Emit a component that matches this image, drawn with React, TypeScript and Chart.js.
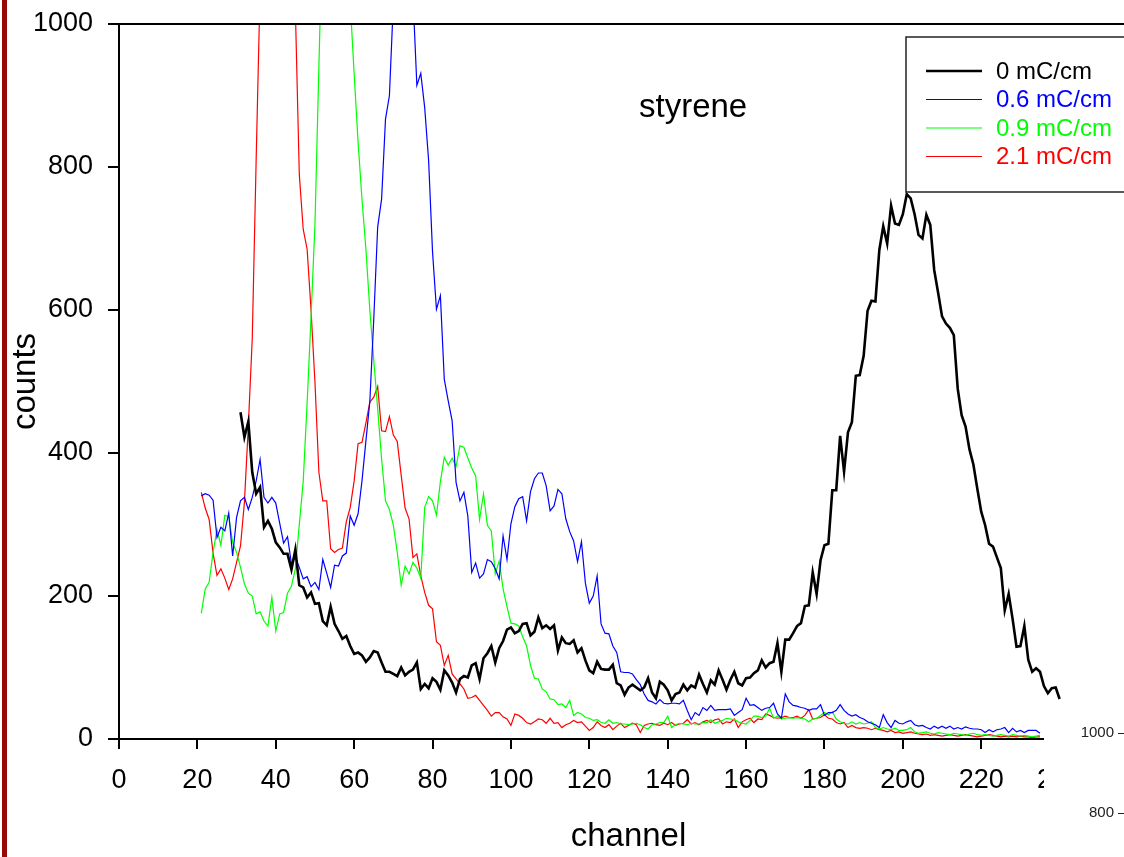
import React, { useEffect, useRef } from "react";
import { Chart, registerables } from "chart.js";

Chart.register(...registerables);

// ---------- data (channel -> counts) ----------
const seriesLabels = ["0 mC/cm", "0.6 mC/cm", "0.9 mC/cm", "2.1 mC/cm"];
const seriesColors = ["#000000", "#0000ff", "#00ff00", "#ff0000"];

const blackStart = 31;
const blackCounts = [
  457, 422, 444, 373, 343, 352, 296, 305, 294, 275,
  268, 259, 259, 237, 265, 215, 212, 198, 205, 189,
  190, 165, 159, 185, 161, 151, 140, 144, 130, 119,
  121, 117, 108, 114, 123, 121, 107, 94, 94, 91,
  88, 100, 89, 94, 97, 107, 70, 77, 71, 85,
  80, 69, 96, 89, 79, 65, 84, 88, 86, 103,
  106, 84, 113, 120, 130, 107, 127, 137, 153, 156,
  148, 151, 161, 162, 145, 150, 170, 155, 159, 154,
  159, 124, 142, 134, 133, 138, 121, 127, 110, 96,
  92, 108, 98, 97, 97, 104, 78, 75, 62, 72,
  76, 72, 68, 72, 85, 65, 57, 80, 76, 68,
  54, 63, 65, 76, 68, 75, 72, 90, 77, 65,
  82, 76, 96, 83, 69, 83, 94, 78, 75, 85,
  86, 92, 96, 110, 100, 106, 108, 134, 94, 139,
  139, 148, 158, 162, 186, 187, 233, 203, 250, 271,
  273, 348, 348, 424, 374, 429, 443, 508, 509, 536,
  599, 613, 612, 684, 717, 693, 746, 721, 719, 734,
  762, 756, 734, 705, 700, 733, 719, 656, 624, 591,
  581, 575, 565, 490, 453, 437, 405, 384, 350, 318,
  299, 273, 269, 254, 239, 180, 203, 168, 129, 130,
  158, 111, 94, 99, 94, 74, 64, 71, 72, 56,
];

const blueStart = 21;
const blueCounts = [
  340, 343, 341, 334, 282, 296, 291, 316, 256, 310,
  333, 338, 321, 338, 361, 391, 338, 330, 338, 330,
  302, 274, 283, 245, 254, 240, 224, 227, 213, 219,
  209, 251, 232, 212, 243, 242, 256, 260, 312, 299,
  315, 361, 417, 472, 587, 716, 755, 867, 900, 1030,
  1110, 1150, 1140, 1090, 1040, 914, 931, 883, 809, 681,
  601, 620, 503, 473, 445, 359, 333, 345, 312, 233,
  246, 225, 231, 251, 248, 238, 224, 284, 251, 301,
  325, 336, 339, 305, 346, 364, 372, 372, 354, 319,
  326, 349, 343, 308, 290, 277, 248, 276, 218, 190,
  200, 228, 161, 148, 147, 130, 121, 94, 93, 93,
  91, 83, 76, 63, 54, 52, 49, 55, 50, 49,
  50, 50, 49, 54, 40, 27, 37, 33, 44, 40,
  47, 40, 41, 41, 41, 42, 33, 37, 41, 57,
  47, 48, 44, 40, 43, 44, 50, 35, 29, 63,
  52, 47, 46, 44, 43, 40, 42, 42, 48, 33,
  37, 37, 40, 48, 40, 35, 32, 34, 30, 28,
  24, 22, 20, 16, 34, 23, 16, 26, 22, 21,
  24, 26, 20, 18, 19, 16, 14, 18, 15, 18,
  15, 18, 14, 16, 14, 17, 15, 14, 14, 13,
  9, 13, 10, 13, 14, 16, 9, 15, 10, 12,
  9, 12, 12, 12, 8,
];

const greenStart = 21;
const greenCounts = [
  176, 210, 219, 261, 293, 271, 313, 311, 275, 261,
  240, 217, 204, 200, 175, 178, 165, 158, 198, 151,
  175, 177, 204, 214, 238, 300, 360, 470, 590, 720,
  940, 1150, 1300, 1400, 1420, 1350, 1250, 1120, 1030, 930,
  835, 755, 685, 600, 530, 462, 392, 333, 321, 299,
  261, 215, 242, 231, 247, 239, 225, 324, 339, 333,
  313, 360, 394, 383, 393, 381, 410, 408, 393, 379,
  368, 307, 343, 299, 291, 231, 249, 210, 185, 162,
  161, 158, 143, 130, 103, 85, 84, 70, 66, 56,
  55, 48, 49, 44, 54, 33, 37, 35, 30, 29,
  26, 27, 23, 22, 27, 22, 23, 21, 21, 20,
  21, 22, 20, 16, 14, 20, 21, 23, 23, 32,
  16, 20, 22, 21, 20, 22, 21, 21, 23, 23,
  27, 22, 24, 26, 29, 28, 27, 24, 22, 21,
  26, 32, 32, 30, 32, 43, 29, 32, 28, 29,
  30, 29, 30, 29, 28, 24, 28, 29, 33, 37,
  34, 38, 28, 24, 22, 21, 24, 21, 23, 21,
  22, 24, 16, 14, 16, 14, 13, 15, 12, 12,
  13, 16, 10, 8, 9, 10, 8, 7, 9, 8,
  7, 6, 8, 7, 6, 5, 7, 8, 6, 5,
  6, 5, 4, 5, 6, 5, 4, 6, 5, 4,
  5, 4, 3, 4, 5,
];

const redStart = 21;
const redCounts = [
  345, 323, 307, 260, 229, 238, 225, 209, 224, 247,
  270, 331, 438, 560, 811, 1050, 1200, 1350, 1450, 1500,
  1480, 1400, 1300, 1150, 1020, 790, 713, 685, 600, 499,
  373, 333, 333, 266, 261, 265, 267, 304, 324, 361,
  413, 415, 442, 471, 478, 493, 431, 430, 451, 425,
  416, 369, 323, 308, 254, 259, 228, 205, 187, 182,
  136, 131, 103, 117, 91, 84, 77, 70, 57, 58,
  61, 54, 47, 40, 32, 37, 37, 31, 28, 19,
  35, 33, 29, 23, 21, 24, 28, 27, 22, 29,
  22, 23, 16, 20, 22, 26, 23, 24, 18, 12,
  16, 24, 19, 16, 20, 13, 18, 22, 16, 19,
  22, 20, 9, 19, 21, 22, 20, 19, 22, 20,
  23, 19, 21, 22, 27, 21, 23, 20, 24, 26,
  23, 27, 28, 21, 24, 23, 28, 16, 24, 27,
  29, 23, 28, 27, 35, 33, 30, 29, 30, 32,
  30, 30, 32, 29, 33, 41, 28, 29, 30, 34,
  29, 28, 23, 21, 23, 16, 19, 16, 15, 16,
  15, 13, 15, 13, 12, 10, 12, 9, 10, 8,
  9, 10, 8, 7, 6, 7, 5, 6, 5, 4,
  5, 6, 5, 4, 5, 6, 5, 4, 3, 4,
  5, 6, 5, 4, 3, 4, 3, 4, 3, 4,
  3, 3, 2, 3, 3,
];

const xMin = 0;
const xMax = 260;
const xStep = 20;
const yMin = 0;
const yMax = 1000;
const yStep = 200;
const xTitle = "channel";
const yTitle = "counts";
const annotationText = "styrene";
const cornerLabels = ["1000", "800"];

const FONT = "'Liberation Sans', Arial, Helvetica, sans-serif";
const W = 1180;
const H = 857;

function toPoints(start: number, values: number[]) {
  return values.map((v, i) => ({ x: start + i, y: v }));
}

const decorPlugin = {
  id: "decor",
  afterDraw(chart: any) {
    const ctx: CanvasRenderingContext2D = chart.ctx;
    const area = chart.chartArea;
    ctx.save();

    // top frame line
    ctx.strokeStyle = "#000";
    ctx.lineWidth = 2;
    ctx.beginPath();
    ctx.moveTo(area.left, area.top);
    ctx.lineTo(W, area.top);
    ctx.stroke();

    // pasted-over corner (neighbouring figure)
    ctx.fillStyle = "#ffffff";
    ctx.fillRect(1044, 704, W - 1044, H - 704);
    ctx.fillStyle = "#222";
    ctx.font = `15px ${FONT}`;
    ctx.textAlign = "right";
    ctx.textBaseline = "middle";
    ctx.fillText(cornerLabels[0], 1114, 733);
    ctx.fillText(cornerLabels[1], 1114, 813);
    ctx.strokeStyle = "#222";
    ctx.lineWidth = 1;
    ctx.beginPath();
    ctx.moveTo(1118, 733.5);
    ctx.lineTo(1124, 733.5);
    ctx.moveTo(1118, 813.5);
    ctx.lineTo(1124, 813.5);
    ctx.stroke();

    // annotation
    ctx.fillStyle = "#000";
    ctx.font = `33px ${FONT}`;
    ctx.textAlign = "left";
    ctx.textBaseline = "alphabetic";
    ctx.fillText(annotationText, 639, 117);

    // legend
    ctx.strokeStyle = "#222";
    ctx.lineWidth = 1.5;
    ctx.strokeRect(906, 37, W, 155);
    const rows = [71, 99.5, 128, 156.5];
    chart.data.datasets.forEach((ds: any, i: number) => {
      ctx.strokeStyle = ds.borderColor;
      ctx.lineWidth = i === 0 ? 2.5 : 1.2;
      ctx.beginPath();
      ctx.moveTo(926, rows[i]);
      ctx.lineTo(982, rows[i]);
      ctx.stroke();
      ctx.fillStyle = ds.borderColor;
      ctx.font = `24px ${FONT}`;
      ctx.textAlign = "left";
      ctx.textBaseline = "middle";
      ctx.fillText(ds.label, 996, rows[i] + 1);
    });

    // left edge bar
    ctx.fillStyle = "#990808";
    ctx.fillRect(2, 0, 5, H);
    ctx.restore();
  },
};

export default function App() {
  const ref = useRef<HTMLCanvasElement>(null);

  useEffect(() => {
    document.body.style.margin = "0";
    const canvas = ref.current!;
    const chart = new Chart(canvas, {
      type: "line",
      data: {
        datasets: [
          {
            label: seriesLabels[0],
            data: toPoints(blackStart, blackCounts),
            borderColor: seriesColors[0],
            borderWidth: 2.6,
          },
          {
            label: seriesLabels[1],
            data: toPoints(blueStart, blueCounts),
            borderColor: seriesColors[1],
            borderWidth: 1.2,
          },
          {
            label: seriesLabels[2],
            data: toPoints(greenStart, greenCounts),
            borderColor: seriesColors[2],
            borderWidth: 1.2,
          },
          {
            label: seriesLabels[3],
            data: toPoints(redStart, redCounts),
            borderColor: seriesColors[3],
            borderWidth: 1.2,
          },
        ],
      },
      options: {
        animation: false,
        responsive: false,
        devicePixelRatio: 1,
        layout: { padding: { left: 0, top: 24, right: W - 1138, bottom: 0 } },
        elements: {
          point: { radius: 0, hoverRadius: 0 },
          line: { tension: 0, fill: false },
        },
        plugins: {
          legend: { display: false },
          tooltip: { enabled: false },
          title: { display: false },
        },
        scales: {
          x: {
            type: "linear",
            min: xMin,
            max: xMax,
            ticks: {
              stepSize: xStep,
              color: "#000",
              font: { family: FONT, size: 27 },
              padding: 15,
              maxRotation: 0,
              autoSkip: false,
              callback: (v: any) => String(v),
            },
            grid: {
              drawOnChartArea: false,
              drawTicks: true,
              tickLength: 10,
              color: "#000",
              lineWidth: 2,
            },
            border: { display: true, color: "#000", width: 2 },
            title: {
              display: true,
              text: xTitle,
              color: "#000",
              font: { family: FONT, size: 33 },
              padding: { top: 0, bottom: 0 },
            },
            afterFit: (s: any) => {
              s.height = H - 739;
            },
          },
          y: {
            type: "linear",
            min: yMin,
            max: yMax,
            ticks: {
              stepSize: yStep,
              color: "#000",
              font: { family: FONT, size: 27 },
              padding: 15,
              callback: (v: any) => String(v),
            },
            grid: {
              drawOnChartArea: false,
              drawTicks: true,
              tickLength: 11,
              color: "#000",
              lineWidth: 2,
            },
            border: { display: true, color: "#000", width: 2 },
            title: {
              display: true,
              text: yTitle,
              color: "#000",
              font: { family: FONT, size: 33 },
              padding: { top: 6, bottom: 0 },
            },
            afterFit: (s: any) => {
              s.width = 119;
              s.paddingTop = 0;
              s.paddingBottom = 0;
            },
          },
        },
      } as any,
      plugins: [decorPlugin],
    });
    return () => chart.destroy();
  }, []);

  return (
    <div
      style={{
        position: "fixed",
        left: 0,
        top: 0,
        width: 1124,
        height: 857,
        overflow: "hidden",
        background: "#fff",
      }}
    >
      <canvas ref={ref} width={W} height={H} style={{ display: "block", width: W, height: H }} />
    </div>
  );
}
